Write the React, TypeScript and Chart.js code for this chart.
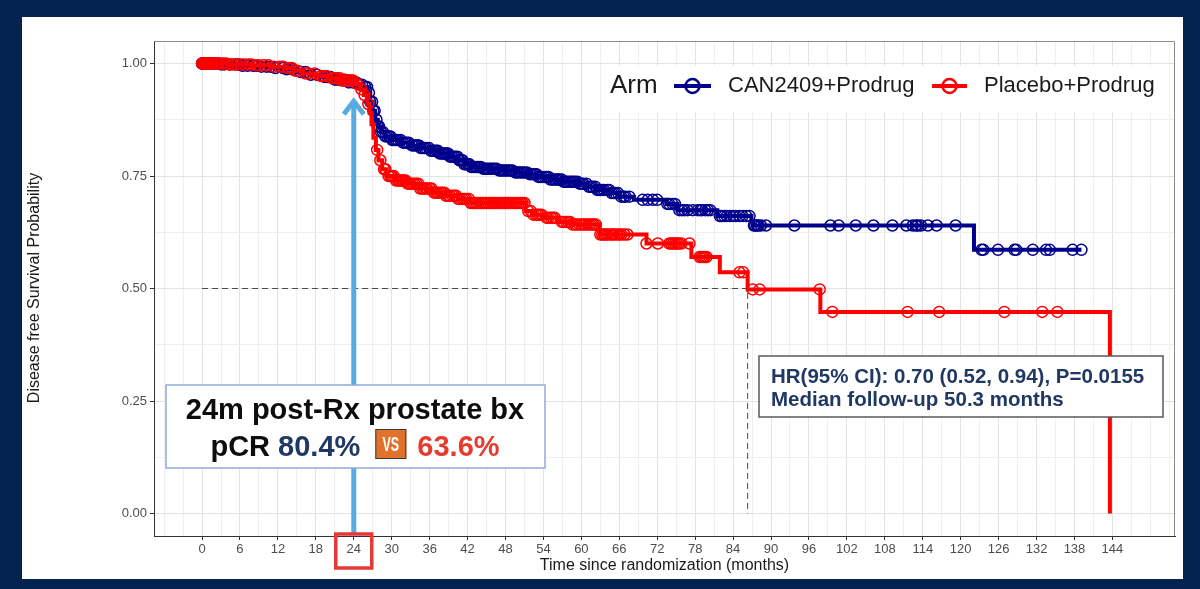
import React, { useEffect, useRef } from "react";
import { Chart, registerables } from "chart.js";

Chart.register(...registerables);

// Kaplan–Meier steps: event time (months) and survival just after it
const ACTIVE_TIMES = [0, 3, 6, 9, 11, 13, 15, 17, 19, 21, 23, 24.5, 25.5, 26.2, 26.6, 27.0, 27.4, 27.8, 28.3, 29.0, 30.0, 31.5, 33.0, 34.5, 36.0, 37.5, 39.0, 40.5, 41.5, 42.5, 44.5, 47.0, 49.5, 51.5, 53.0, 55.0, 57.0, 59.5, 61.0, 62.4, 64.5, 66.0, 68.3, 73.5, 75.2, 81.5, 86.9, 87.2, 122.1];
const ACTIVE_SURV = [1.0, 0.998, 0.995, 0.993, 0.99, 0.987, 0.981, 0.975, 0.97, 0.964, 0.958, 0.953, 0.948, 0.935, 0.915, 0.895, 0.875, 0.86, 0.848, 0.838, 0.83, 0.824, 0.818, 0.812, 0.806, 0.8, 0.793, 0.785, 0.776, 0.77, 0.766, 0.762, 0.758, 0.754, 0.748, 0.742, 0.737, 0.733, 0.726, 0.719, 0.712, 0.704, 0.697, 0.688, 0.674, 0.661, 0.65, 0.64, 0.586];
const ACTIVE_LAST_FOLLOWUP = 139.1;

const PLACEBO_TIMES = [0, 4, 8, 11, 13, 14.5, 16, 18, 20, 22, 24.3, 25.0, 25.6, 26.1, 26.5, 26.8, 27.1, 27.5, 27.9, 28.5, 29.2, 30.5, 32.5, 34.5, 36.5, 38.5, 40.5, 42.5, 51.2, 52.3, 53.9, 56.4, 58.5, 62.9, 70.3, 77.4, 81.9, 86.3, 97.8, 143.6];
const PLACEBO_SURV = [1.0, 0.998, 0.996, 0.993, 0.99, 0.984, 0.978, 0.972, 0.967, 0.962, 0.955, 0.943, 0.93, 0.91, 0.89, 0.865, 0.835, 0.808, 0.785, 0.765, 0.75, 0.74, 0.733, 0.722, 0.713, 0.706, 0.699, 0.69, 0.672, 0.664, 0.657, 0.648, 0.642, 0.62, 0.6, 0.57, 0.536, 0.498, 0.448, 0.0];

// Censoring times (months)
const ACTIVE_CENSORED = [
  0, 0.1, 0.2, 0.3, 0.4, 0.5, 0.7, 0.8, 1.0, 1.2, 1.4, 2.0, 2.6, 3.0, 3.5, 4.4, 5.3, 5.8, 6.4, 7.2, 8.1, 8.6, 9.4, 10.2, 10.8,
  11.6, 12.8, 13.4, 14.3, 15.6, 16.4, 17.2, 18.2, 19.4, 19.9, 20.3, 21.0, 21.5, 22.1, 22.6, 23.2, 23.8, 24.4, 24.9, 25.3,
  25.8, 26.1, 26.4, 26.6, 26.9, 27.1, 27.3, 27.6, 27.8, 28.0, 28.3, 28.6, 29.0, 29.3, 29.6, 29.8, 30.1, 30.4, 30.7, 31.0,
  31.4, 31.8, 32.1, 32.4, 32.7, 33.2, 33.5, 33.8, 34.1, 34.3, 34.6, 34.9, 35.2, 35.5, 35.9, 36.2, 36.5, 36.8, 37.1, 37.3,
  37.6, 37.9, 38.2, 38.4, 38.7, 38.9, 39.2, 39.5, 39.8, 40.1, 40.4, 40.7, 41.0, 41.2, 41.5, 41.8, 42.1, 42.3, 42.6, 42.9,
  43.2, 43.5, 43.8, 44.1, 44.5, 44.8, 45.1, 45.4, 45.7, 46.0, 46.3, 46.6, 47.0, 47.3, 47.6, 47.9, 48.2, 48.5, 48.8, 49.1,
  49.5, 49.8, 50.1, 50.4, 50.7, 51.0, 51.4, 51.8, 52.1, 52.4, 52.7, 52.9, 53.2, 53.5, 53.8, 54.2, 54.5, 54.8, 55.1, 55.4,
  55.7, 56.0, 56.3, 56.5, 56.9, 57.2, 57.5, 57.8, 58.1, 58.4, 58.7, 59.0, 59.4, 59.7, 60.0, 60.3, 60.8, 61.2, 61.5, 61.8,
  62.2, 62.5, 62.8, 63.0, 63.3, 63.6, 64.1, 64.4, 64.8, 65.1, 65.4, 65.8, 66.3, 66.7, 67.0, 67.6, 69.7, 70.5, 71.3, 72.0,
  73.6, 73.9, 74.4, 74.8, 75.5, 75.9, 76.3, 76.8, 77.6, 78.4, 78.8, 79.1, 79.6, 80.0, 80.4, 81.9, 82.2, 82.6, 83.0, 83.5,
  84.0, 84.4, 85.0, 85.5, 86.1, 86.6, 87.3, 87.5, 87.8, 88.0, 88.4, 89.2, 93.7, 99.4, 100.7, 103.4, 106.2, 109.2, 111.4,
  112.4, 112.9, 113.2, 113.7, 114.8, 116.2, 119.2, 123.3, 123.6, 125.9, 128.5, 128.8, 131.4, 133.5, 134.1, 137.7, 139.1,
];
const PLACEBO_CENSORED = [
  0, 0.2, 0.3, 0.5, 0.6, 0.8, 0.9, 1.1, 1.3, 1.5, 1.8, 2.2, 2.6, 3.0, 3.4, 3.8, 4.2, 4.7, 5.1, 5.6, 6.2, 6.7, 7.3, 7.8,
  8.5, 9.0, 9.8, 10.5, 11.4, 12.3, 12.8, 13.6, 14.2, 14.7, 15.1, 16.3, 16.8, 17.8, 18.8, 19.2, 19.7, 20.6, 21.0, 21.3,
  21.8, 22.1, 22.4, 22.6, 22.9, 23.1, 23.4, 23.6, 23.9, 24.5, 25.2, 25.7, 26.3, 27.7, 28.2, 28.8, 29.0, 29.5, 29.8, 30.0,
  30.3, 30.7, 31.0, 31.2, 31.5, 31.7, 31.9, 32.2, 32.5, 32.8, 33.0, 33.3, 33.6, 33.9, 34.2, 34.5, 34.8, 35.1, 35.4, 35.6,
  36.0, 36.3, 36.7, 37.0, 37.2, 37.5, 37.8, 38.0, 38.3, 38.6, 38.9, 39.2, 39.6, 39.9, 40.2, 40.5, 40.8, 41.2, 41.5, 41.8,
  42.2, 42.5, 42.8, 43.1, 43.4, 43.7, 44.1, 44.4, 44.7, 45.0, 45.3, 45.6, 46.0, 46.3, 46.6, 47.0, 47.3, 47.6, 47.9, 48.2,
  48.5, 48.8, 49.1, 49.5, 49.8, 50.1, 50.4, 50.7, 51.0, 51.6, 52.0, 52.4, 52.8, 53.1, 53.4, 53.7, 54.5, 54.8, 55.2, 55.5,
  55.8, 56.9, 57.2, 57.6, 57.9, 58.2, 58.6, 59.0, 59.3, 59.7, 60.1, 60.4, 60.7, 61.1, 61.4, 61.7, 62.0, 62.3, 63.0, 63.3,
  63.6, 63.9, 64.2, 64.6, 64.9, 65.2, 65.6, 66.0, 66.3, 66.8, 67.3, 70.3, 72.1, 73.9, 74.2, 74.5, 74.8, 75.1, 75.4, 75.8,
  77.1, 78.7, 79.0, 79.3, 79.5, 79.8, 85.0, 85.6, 87.1, 88.2, 97.7, 99.7, 111.6, 116.6, 126.9, 132.9, 135.3,
];

const ARM_TITLE = "Arm";
const ARM_LABELS = ["CAN2409+Prodrug", "Placebo+Prodrug"];
const ARM_COLORS = ["#00008B", "#FF0000"];

const X_TICKS = [0, 6, 12, 18, 24, 30, 36, 42, 48, 54, 60, 66, 72, 78, 84, 90, 96, 102, 108, 114, 120, 126, 132, 138, 144];
const Y_TICKS = [0, 0.25, 0.5, 0.75, 1];
const X_TITLE = "Time since randomization (months)";
const Y_TITLE = "Disease free Survival Probability";

const PLACEBO_MEDIAN_MONTHS = 86.3;
const LANDMARK_MONTH = 24;
const LANDMARK_ARROW_TIP = 0.925;
const PCR_TITLE = "24m post-Rx prostate bx";
const PCR_ACTIVE = "80.4%";
const PCR_PLACEBO = "63.6%";
const HR_LINE = "HR(95% CI): 0.70 (0.52, 0.94), P=0.0155";
const FOLLOWUP_LINE = "Median follow-up 50.3 months";

const FONT = '"Liberation Sans", Arial, Helvetica, sans-serif';

function stepPoints(times: number[], surv: number[], lastFollowup?: number) {
  const pts = times.map((t, i) => ({ x: t, y: surv[i] }));
  if (lastFollowup !== undefined) pts.push({ x: lastFollowup, y: surv[surv.length - 1] });
  return pts;
}

function survivalAt(times: number[], surv: number[], t: number) {
  let s = surv[0];
  for (let i = 0; i < times.length; i++) {
    if (times[i] <= t) s = surv[i];
    else break;
  }
  return s;
}

function censorPoints(times: number[], surv: number[], censored: number[]) {
  return censored.map((t) => ({ x: t, y: survivalAt(times, surv, t) }));
}

const decorPlugin = {
  id: "kmDecor",
  beforeDraw(chart: any) {
    const { ctx, width, height } = chart;
    ctx.save();
    ctx.fillStyle = "#03224F";
    ctx.fillRect(0, 0, width, height);
    ctx.fillStyle = "#FFFFFF";
    ctx.fillRect(22, 17, 1161, 562);
    ctx.restore();
  },
  beforeDatasetsDraw(chart: any) {
    const { ctx } = chart;
    const x = chart.scales.x;
    const y = chart.scales.y;
    ctx.save();
    ctx.strokeStyle = "#4A4A4A";
    ctx.lineWidth = 1;
    ctx.setLineDash([6, 4]);
    ctx.beginPath();
    ctx.moveTo(x.getPixelForValue(0), y.getPixelForValue(0.5));
    ctx.lineTo(x.getPixelForValue(PLACEBO_MEDIAN_MONTHS), y.getPixelForValue(0.5));
    ctx.lineTo(x.getPixelForValue(PLACEBO_MEDIAN_MONTHS), y.getPixelForValue(0));
    ctx.stroke();
    ctx.restore();
  },
  afterDraw(chart: any) {
    const { ctx, chartArea } = chart;
    const x = chart.scales.x;
    const y = chart.scales.y;
    ctx.save();

    // panel outline (top / right)
    ctx.strokeStyle = "#8C8C8C";
    ctx.lineWidth = 1;
    ctx.beginPath();
    ctx.moveTo(chartArea.left, chartArea.top + 0.5);
    ctx.lineTo(chartArea.right - 0.5, chartArea.top + 0.5);
    ctx.lineTo(chartArea.right - 0.5, chartArea.bottom);
    ctx.stroke();

    // axis titles
    ctx.fillStyle = "#1A1A1A";
    ctx.font = `16px ${FONT}`;
    ctx.textAlign = "center";
    ctx.textBaseline = "middle";
    ctx.fillText(X_TITLE, (chartArea.left + chartArea.right) / 2, 566);
    ctx.save();
    ctx.translate(35, 288);
    ctx.rotate(-Math.PI / 2);
    ctx.fillText(Y_TITLE, 0, 0);
    ctx.restore();

    // landmark arrow at 24 months
    const ax = x.getPixelForValue(LANDMARK_MONTH);
    const tipY = y.getPixelForValue(LANDMARK_ARROW_TIP);
    ctx.strokeStyle = "#58AAE2";
    ctx.lineWidth = 5;
    ctx.lineCap = "butt";
    ctx.beginPath();
    ctx.moveTo(ax, chartArea.bottom - 2);
    ctx.lineTo(ax, tipY + 3);
    ctx.stroke();
    ctx.lineJoin = "miter";
    ctx.beginPath();
    ctx.moveTo(ax - 10, tipY + 17);
    ctx.lineTo(ax, tipY + 4);
    ctx.lineTo(ax + 10, tipY + 17);
    ctx.stroke();

    // highlighted 24-month tick label
    ctx.strokeStyle = "#E53935";
    ctx.lineWidth = 3.5;
    ctx.strokeRect(ax - 18, 534, 36, 34);

    // pCR annotation box
    ctx.fillStyle = "#FFFFFF";
    ctx.fillRect(166, 385, 379, 83);
    ctx.strokeStyle = "#8FAADC";
    ctx.lineWidth = 1.5;
    ctx.strokeRect(166, 385, 379, 83);
    ctx.textBaseline = "alphabetic";
    ctx.textAlign = "center";
    ctx.font = `bold 29px ${FONT}`;
    ctx.fillStyle = "#0D0D0D";
    ctx.fillText(PCR_TITLE, 355, 419);
    ctx.textAlign = "left";
    const lead = "pCR ";
    const wLead = ctx.measureText(lead).width;
    const wA = ctx.measureText(PCR_ACTIVE).width;
    const wP = ctx.measureText(PCR_PLACEBO).width;
    const vsW = 31;
    const total = wLead + wA + 15 + vsW + 11 + wP;
    let cx = 355 - total / 2;
    ctx.fillStyle = "#0D0D0D";
    ctx.fillText(lead, cx, 456);
    cx += wLead;
    ctx.fillStyle = "#1F3864";
    ctx.fillText(PCR_ACTIVE, cx, 456);
    cx += wA + 15;
    ctx.fillStyle = "#E2722B";
    ctx.fillRect(cx, 429, vsW, 30);
    ctx.strokeStyle = "#3A3A3A";
    ctx.lineWidth = 1;
    ctx.strokeRect(cx + 0.5, 429.5, vsW - 1, 29);
    ctx.save();
    ctx.fillStyle = "#FFFFFF";
    ctx.font = `bold 20px ${FONT}`;
    ctx.translate(cx + vsW / 2, 451);
    ctx.scale(0.62, 1);
    ctx.textAlign = "center";
    ctx.fillText("VS", 0, 0);
    ctx.restore();
    cx += vsW + 11;
    ctx.fillStyle = "#E63B2E";
    ctx.fillText(PCR_PLACEBO, cx, 456);

    // hazard ratio box
    ctx.fillStyle = "#FFFFFF";
    ctx.fillRect(759, 356, 404, 61);
    ctx.strokeStyle = "#5A5A5A";
    ctx.lineWidth = 1.5;
    ctx.strokeRect(759, 356, 404, 61);
    ctx.fillStyle = "#1F3864";
    ctx.font = `bold 20.5px ${FONT}`;
    ctx.textAlign = "left";
    ctx.fillText(HR_LINE, 771, 383);
    ctx.fillText(FOLLOWUP_LINE, 771, 406);

    // legend
    ctx.fillStyle = "#FFFFFF";
    ctx.fillRect(601, 66, 564, 46);
    const ly = 86;
    ctx.fillStyle = "#1A1A1A";
    ctx.textBaseline = "middle";
    ctx.font = `26px ${FONT}`;
    ctx.fillText(ARM_TITLE, 610, ly);
    const keys = [
      { x0: 674, x1: 711, tx: 728 },
      { x0: 932, x1: 967, tx: 984 },
    ];
    keys.forEach((k, i) => {
      ctx.strokeStyle = ARM_COLORS[i];
      ctx.lineWidth = 4;
      ctx.beginPath();
      ctx.moveTo(k.x0, ly);
      ctx.lineTo(k.x1, ly);
      ctx.stroke();
      ctx.lineWidth = 2.5;
      ctx.beginPath();
      ctx.arc((k.x0 + k.x1) / 2, ly, 7, 0, Math.PI * 2);
      ctx.stroke();
      ctx.fillStyle = "#1A1A1A";
      ctx.font = `22px ${FONT}`;
      ctx.fillText(ARM_LABELS[i], k.tx, ly);
    });

    ctx.restore();
  },
};

export default function App() {
  const canvasRef = useRef<HTMLCanvasElement | null>(null);

  useEffect(() => {
    if (!canvasRef.current) return;
    Chart.defaults.font.family = FONT;

    const xGrid: number[] = [];
    for (let v = -6; v <= 153; v += 3) xGrid.push(v);
    const yGrid: number[] = [];
    for (let i = 0; i <= 8; i++) yGrid.push(i * 0.125);

    const lineStyle = (color: string) => ({
      borderColor: color,
      backgroundColor: color,
      borderWidth: 4,
      pointRadius: 0,
      pointHoverRadius: 0,
      stepped: "before" as const,
      fill: false,
      showLine: true,
    });
    const markStyle = (color: string) => ({
      borderColor: color,
      backgroundColor: "rgba(0,0,0,0)",
      pointBorderColor: color,
      pointBackgroundColor: "rgba(0,0,0,0)",
      pointRadius: 5.5,
      pointHoverRadius: 5.5,
      pointBorderWidth: 1.5,
      showLine: false,
    });

    const chart = new Chart(canvasRef.current, {
      type: "line",
      data: {
        datasets: [
          { label: ARM_LABELS[1] + " censored", data: censorPoints(PLACEBO_TIMES, PLACEBO_SURV, PLACEBO_CENSORED), ...markStyle(ARM_COLORS[1]) },
          { label: ARM_LABELS[1], data: stepPoints(PLACEBO_TIMES, PLACEBO_SURV), ...lineStyle(ARM_COLORS[1]) },
          { label: ARM_LABELS[0] + " censored", data: censorPoints(ACTIVE_TIMES, ACTIVE_SURV, ACTIVE_CENSORED), ...markStyle(ARM_COLORS[0]) },
          { label: ARM_LABELS[0], data: stepPoints(ACTIVE_TIMES, ACTIVE_SURV, ACTIVE_LAST_FOLLOWUP), ...lineStyle(ARM_COLORS[0]) },
        ],
      },
      options: {
        responsive: false,
        animation: false,
        devicePixelRatio: 1,
        events: [],
        layout: { padding: { top: 41, right: 25, bottom: 0, left: 0 } },
        plugins: { legend: { display: false }, tooltip: { enabled: false } },
        scales: {
          x: {
            type: "linear",
            min: -7.6,
            max: 153.9,
            afterBuildTicks: (scale: any) => {
              scale.ticks = xGrid.map((v) => ({ value: v }));
            },
            afterFit: (scale: any) => {
              scale.height = 53;
            },
            ticks: {
              autoSkip: false,
              maxRotation: 0,
              minRotation: 0,
              padding: 2,
              color: "#4D4D4D",
              font: { size: 13, family: FONT },
              callback: (v: any) => (X_TICKS.includes(Number(v)) ? String(v) : ""),
            },
            grid: {
              color: (c: any) => (X_TICKS.includes(c.tick?.value) ? "#E2E2E2" : "#EFEFEF"),
              lineWidth: 1,
              tickLength: 4,
              tickColor: (c: any) => (X_TICKS.includes(c.tick?.value) ? "#333333" : "rgba(0,0,0,0)"),
            },
            border: { display: true, color: "#333333", width: 1 },
          },
          y: {
            type: "linear",
            min: -0.05,
            max: 1.05,
            afterBuildTicks: (scale: any) => {
              scale.ticks = yGrid.map((v) => ({ value: v }));
            },
            afterFit: (scale: any) => {
              scale.width = 154;
            },
            ticks: {
              autoSkip: false,
              padding: 3,
              color: "#4D4D4D",
              font: { size: 13, family: FONT },
              callback: (v: any) => (Y_TICKS.includes(Number(v)) ? Number(v).toFixed(2) : ""),
            },
            grid: {
              color: (c: any) => (Y_TICKS.includes(c.tick?.value) ? "#E2E2E2" : "#EFEFEF"),
              lineWidth: 1,
              tickLength: 4,
              tickColor: (c: any) => (Y_TICKS.includes(c.tick?.value) ? "#333333" : "rgba(0,0,0,0)"),
            },
            border: { display: true, color: "#333333", width: 1 },
          },
        },
      },
      plugins: [decorPlugin],
    } as any);

    return () => chart.destroy();
  }, []);

  return (
    <div style={{ position: "fixed", left: 0, top: 0, width: 1200, height: 589 }}>
      <canvas ref={canvasRef} width={1200} height={589} style={{ display: "block" }} />
    </div>
  );
}
